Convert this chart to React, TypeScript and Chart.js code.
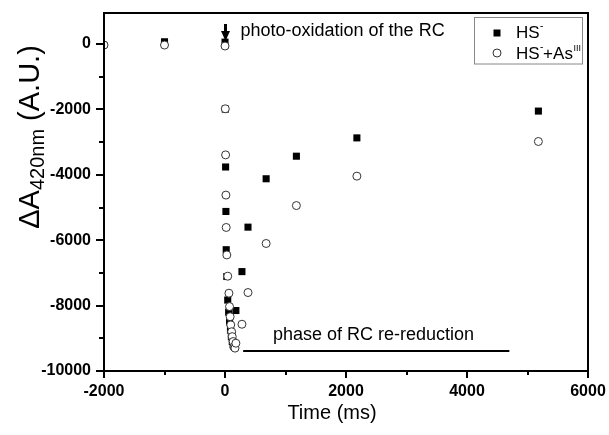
import React, { useEffect, useRef } from 'react';
import { Chart, registerables } from 'chart.js';

Chart.register(...registerables);

// ---- data (time in ms, ΔA420nm in A.U.) ----
const hsTimes = [-1000, 0, 5, 10, 15, 20, 30, 45, 60, 75, 90, 105, 120, 135, 150, 180, 280, 380, 680, 1180, 2180, 5180];
const hsValues = [70, 60, -1990, -3760, -5120, -6290, -7110, -7830, -8200, -8500, -8750, -8950, -9100, -9200, -9250, -8150, -6960, -5600, -4120, -3430, -2870, -2050];

const asTimes = [-2000, -1000, 0, 5, 10, 15, 20, 30, 45, 65, 75, 85, 95, 110, 120, 135, 150, 165, 180, 280, 380, 680, 1180, 2180, 5180];
const asValues = [-30, -30, -60, -1980, -3390, -4620, -5610, -6450, -7100, -7620, -8030, -8340, -8590, -8800, -8950, -9100, -9260, -9300, -9150, -8570, -7600, -6100, -4940, -4040, -2980];

const xTickValues = [-2000, -1000, 0, 1000, 2000, 3000, 4000, 5000, 6000];
const xTickLabels = [-2000, 0, 2000, 4000, 6000];
const yTickValues = [-10000, -9000, -8000, -7000, -6000, -5000, -4000, -3000, -2000, -1000, 0];
const yTickLabels = [0, -2000, -4000, -6000, -8000, -10000];

const seriesNames = ['HS', 'HS', '+As', 'III'];
const annotationTop = 'photo-oxidation of the RC';
const annotationBottom = 'phase of RC re-reduction';
const xTitle = 'Time (ms)';
const yTitleMain = 'ΔA';
const yTitleSub = '420nm';
const yTitleRest = ' (A.U.)';

const FONT = '"Liberation Sans", Arial, sans-serif';

const overlay = {
  id: 'overlay',
  afterDraw(chart: any) {
    const { ctx, chartArea: a, scales } = chart;
    const xs = scales.x;
    const ys = scales.y;
    ctx.save();
    ctx.strokeStyle = '#000';
    ctx.fillStyle = '#000';

    // frame
    ctx.lineWidth = 2;
    ctx.strokeRect(a.left, a.top, a.right - a.left, a.bottom - a.top);

    // tick marks
    ctx.lineWidth = 2;
    ctx.beginPath();
    xs.ticks.forEach((t: any) => {
      const px = Math.round(xs.getPixelForValue(t.value));
      const len = t.value % 2000 === 0 ? 7 : 4;
      ctx.moveTo(px, a.bottom);
      ctx.lineTo(px, a.bottom + len);
    });
    ys.ticks.forEach((t: any) => {
      const py = Math.round(ys.getPixelForValue(t.value));
      const len = t.value % 2000 === 0 ? 8 : 5;
      ctx.moveTo(a.left, py);
      ctx.lineTo(a.left - len, py);
    });
    ctx.stroke();

    // arrow
    const x0 = xs.getPixelForValue(0) + 0.5;
    ctx.fillRect(x0 - 1.5, 24, 3, 8);
    ctx.beginPath();
    ctx.moveTo(x0 - 4.5, 31);
    ctx.lineTo(x0 + 4.5, 31);
    ctx.lineTo(x0, 41);
    ctx.closePath();
    ctx.fill();

    ctx.textBaseline = 'alphabetic';
    ctx.textAlign = 'left';
    ctx.font = `18px ${FONT}`;
    ctx.fillText(annotationTop, x0 + 15, 36);

    // re-reduction phase
    ctx.fillText(annotationBottom, 273, 340);
    const ly = Math.round(ys.getPixelForValue(-9390));
    ctx.lineWidth = 2;
    ctx.beginPath();
    ctx.moveTo(xs.getPixelForValue(300), ly);
    ctx.lineTo(xs.getPixelForValue(4700), ly);
    ctx.stroke();

    // legend
    ctx.lineWidth = 1;
    ctx.strokeStyle = '#888';
    ctx.strokeRect(474.5, 17.5, 108, 46.5);
    ctx.fillStyle = '#000';
    ctx.fillRect(493.5, 29.5, 7, 7);
    ctx.beginPath();
    ctx.arc(497, 53, 4, 0, Math.PI * 2);
    ctx.fillStyle = '#fff';
    ctx.fill();
    ctx.strokeStyle = '#333';
    ctx.stroke();
    ctx.fillStyle = '#000';
    ctx.font = `17px ${FONT}`;
    ctx.fillText(seriesNames[0], 516, 38);
    let w = ctx.measureText(seriesNames[0]).width;
    ctx.font = `10px ${FONT}`;
    ctx.fillText('-', 516 + w + 0.5, 29);
    ctx.font = `17px ${FONT}`;
    ctx.fillText(seriesNames[1], 516, 59);
    w = ctx.measureText(seriesNames[1]).width;
    ctx.font = `10px ${FONT}`;
    ctx.fillText('-', 516 + w + 0.5, 50);
    const w2 = 516 + w + 3.5;
    ctx.font = `17px ${FONT}`;
    ctx.fillText(seriesNames[2], w2, 59);
    const w3 = w2 + ctx.measureText(seriesNames[2]).width + 0.5;
    ctx.font = `9px ${FONT}`;
    ctx.fillText(seriesNames[3], w3, 51);

    // x title
    ctx.font = `20px ${FONT}`;
    ctx.textAlign = 'center';
    ctx.fillText(xTitle, 332, 419);

    // y title (rotated)
    ctx.textAlign = 'left';
    ctx.translate(39, 137);
    ctx.rotate(-Math.PI / 2);
    ctx.font = `29px ${FONT}`;
    const m1 = ctx.measureText(yTitleMain).width;
    const m3 = ctx.measureText(yTitleRest).width;
    ctx.font = `20px ${FONT}`;
    const m2 = ctx.measureText(yTitleSub).width;
    let sx = -(m1 + m2 + m3) / 2;
    ctx.font = `29px ${FONT}`;
    ctx.fillText(yTitleMain, sx, 0);
    sx += m1;
    ctx.font = `20px ${FONT}`;
    ctx.fillText(yTitleSub, sx, 5);
    sx += m2;
    ctx.font = `29px ${FONT}`;
    ctx.fillText(yTitleRest, sx, 0);

    ctx.restore();
  },
};

export default function App() {
  const ref = useRef<HTMLCanvasElement | null>(null);
  useEffect(() => {
    if (!ref.current) return;
    const chart = new Chart(ref.current, {
      type: 'scatter',
      data: {
        datasets: [
          {
            label: 'HS-',
            data: hsTimes.map((t, i) => ({ x: t, y: hsValues[i] })),
            pointStyle: 'rect',
            pointRadius: 5,
            backgroundColor: '#000',
            borderColor: '#000',
            borderWidth: 0,
            clip: 0,
            order: 2,
          },
          {
            label: 'HS-+AsIII',
            data: asTimes.map((t, i) => ({ x: t, y: asValues[i] })),
            pointStyle: 'circle',
            pointRadius: 4,
            backgroundColor: '#fff',
            borderColor: '#333',
            borderWidth: 1,
            clip: 0,
            order: 1,
          },
        ],
      },
      options: {
        responsive: false,
        animation: false,
        events: [],
        layout: { padding: { top: 13, right: 21, left: 0, bottom: 0 } },
        plugins: { legend: { display: false }, tooltip: { enabled: false } },
        scales: {
          x: {
            type: 'linear',
            min: -2000,
            max: 6000,
            afterBuildTicks: (s: any) => { s.ticks = xTickValues.map((v) => ({ value: v })); },
            afterFit: (s: any) => { s.height = 64; s.paddingLeft = 0; s.paddingRight = 0; },
            grid: { display: false, drawTicks: false },
            border: { display: false },
            ticks: {
              autoSkip: false,
              maxRotation: 0,
              padding: 11,
              color: '#000',
              font: { family: FONT, size: 16, weight: 'bold' },
              callback: (v: any) => (xTickLabels.includes(Number(v)) ? String(v) : ''),
            },
          },
          y: {
            type: 'linear',
            min: -10000,
            max: 950,
            afterBuildTicks: (s: any) => { s.ticks = yTickValues.map((v) => ({ value: v })); },
            afterFit: (s: any) => { s.width = 104; s.paddingTop = 0; s.paddingBottom = 0; },
            grid: { display: false, drawTicks: false },
            border: { display: false },
            ticks: {
              autoSkip: false,
              padding: 13,
              color: '#000',
              font: { family: FONT, size: 16, weight: 'bold' },
              callback: (v: any) => (yTickLabels.includes(Number(v)) ? String(v) : ''),
            },
          },
        },
      },
      plugins: [overlay],
    });
    return () => chart.destroy();
  }, []);
  return (
    <div style={{ position: 'fixed', left: 0, top: 0, width: 609, height: 435, background: '#fff' }}>
      <canvas ref={ref} width={609} height={435} style={{ display: 'block', width: 609, height: 435 }} />
    </div>
  );
}
